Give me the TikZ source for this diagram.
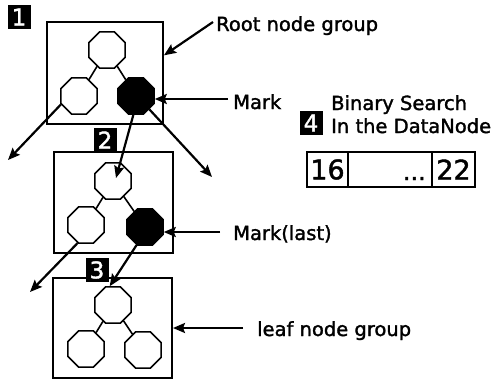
\documentclass[tikz,border=0pt]{standalone}
\usepackage{fontspec}
\setmainfont{DejaVu Sans}[BoldFont=DejaVu Sans, BoldFeatures={FakeBold=1.6}]
\usetikzlibrary{shapes.geometric,arrows.meta,calc}
\begin{document}
\begin{tikzpicture}[x=1pt,y=-1pt,
  oct/.style={draw, line width=1.5pt, regular polygon, regular polygon sides=8, minimum size=39pt, inner sep=0pt, fill=white},
  octb/.style={oct, fill=black},
  grp/.style={draw, line width=2pt, inner sep=0pt},
  tag/.style={fill=black, text=white, minimum width=23pt, minimum height=24pt, inner sep=0pt, font=\bfseries\fontsize{23}{23}\selectfont},
  lbl/.style={anchor=base west, inner sep=0pt, font=\bfseries\fontsize{19.5}{22}\selectfont},
  edgeline/.style={line width=1.6pt},
  arr/.style={line width=2.2pt, -{Stealth[length=12pt,width=10pt,inset=2pt]}},
  cell/.style={draw, line width=1.5pt, inner sep=0pt, minimum height=35pt}
]
\useasboundingbox (0,0) rectangle (503,380);

% group boxes
\node[grp, minimum width=116pt, minimum height=102pt] (box1) at (105,73) {};
\node[grp, minimum width=119pt, minimum height=101pt] (box2) at (113.5,202.5) {};
\node[grp, minimum width=119pt, minimum height=100pt] (box3) at (112.5,328) {};

% step tags
\node[tag] (t1) at (19,17) {1};
\node[tag] (t2) at (105,140) {2};
\node[tag] (t3) at (97,270) {3};
\node[tag] (t4) at (311,123) {4};

% octagons
\node[oct]  (A1) at (107,50) {};
\node[oct]  (B1) at (79,96) {};
\node[octb] (C1) at (136,96) {};
\node[oct]  (A2) at (113,181) {};
\node[oct]  (B2) at (86,225) {};
\node[octb] (C2) at (145,227) {};
\node[oct]  (A3) at (113,305) {};
\node[oct]  (B3) at (86,349) {};
\node[oct]  (C3) at (143,350) {};

\draw[edgeline] (A1) -- (B1);
\draw[edgeline] (A1) -- (C1);
\draw[edgeline] (A2) -- (B2);
\draw[edgeline] (A2) -- (C2);
\draw[edgeline] (A3) -- (B3);
\draw[edgeline] (A3) -- (C3);

% free ends
\coordinate (o1) at (8,160);
\coordinate (o2) at (212,177);
\coordinate (o3) at (30,292);
\coordinate (rootS) at (213,22);
\coordinate (markS) at (228,99);
\coordinate (markL) at (220,232);
\coordinate (leafS) at (243,328);

% tree arrows
\draw[arr] (B1.205) -- (o1);
\draw[arr] (C1.262) -- ($(A2.center)+(3,-3)$);
\draw[arr] (C1.315) -- (o2);
\draw[arr] (B2.245) -- (o3);
\draw[arr] (C2.245) -- (A3.100);

% label arrows
\draw[arr] (rootS) -- ($(box1.north east)!0.33!(box1.south east)$);
\draw[arr] (markS) -- (markS -| C1.east);
\draw[arr] (markL) -- (markL -| C2.east);
\draw[arr] (leafS) -- (box3.east);

% labels
\node[lbl] (lroot) at (216,31) {Root node group};
\node[lbl] (lmark) at (233,109) {Mark};
\node[lbl] (lmarkl) at (233,240) {Mark(last)};
\node[lbl] (lleaf) at (257,336) {leaf node group};
\node[lbl] (lbs1) at (331,110) {Binary Search};
\node[lbl] (lbs2) at (331,133) {In the DataNode};

% data node array
\node[cell, minimum width=41pt, font=\bfseries\fontsize{27}{27}\selectfont] (c1) at (327.5,169.5) {16};
\node[cell, minimum width=84pt] (c2) at (390,169.5) {};
\node[cell, minimum width=43pt, font=\bfseries\fontsize{27}{27}\selectfont] (c3) at (453.5,169.5) {22};
\node[anchor=base east, inner sep=0pt, font=\bfseries\fontsize{24}{24}\selectfont] (dots) at (426,180) {...};

\end{tikzpicture}
\end{document}
